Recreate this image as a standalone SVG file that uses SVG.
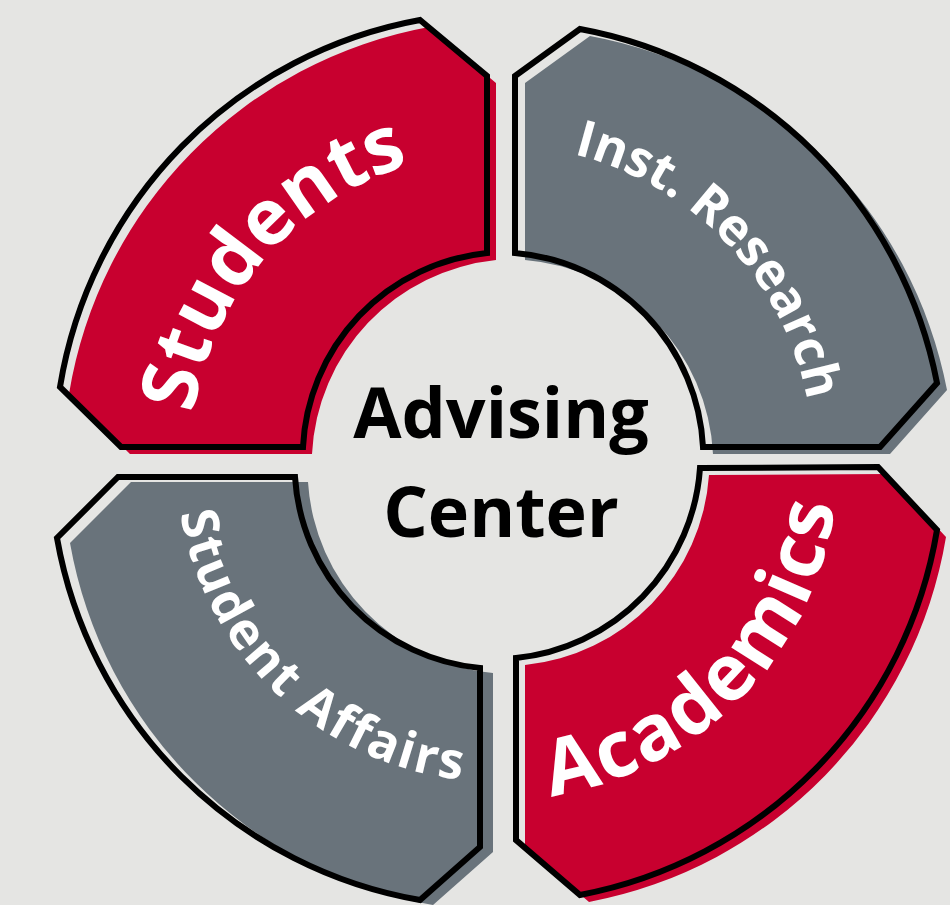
<svg xmlns="http://www.w3.org/2000/svg" xmlns:xlink="http://www.w3.org/1999/xlink" width="950" height="905" viewBox="0 0 950 905">
<style>
.bg{fill:#e5e5e3}
.red{fill:#c8002f}
.gray{fill:#69737b}
.outline{fill:none;stroke:#000;stroke-width:6;stroke-linejoin:miter;stroke-miterlimit:10}
.lbl{fill:#fff;font-family:"Open Sans","DejaVu Sans",sans-serif;font-weight:700}
.big{font-size:78px}
.small{font-size:51px}
.center{fill:#000;font-family:"Open Sans","DejaVu Sans",sans-serif;font-size:70px;font-weight:700;text-anchor:middle}
</style>
<defs>
<path id="qTL" d="M420,20 L487,76 L487,253 A205,205 0 0 0 303,447 L121,447 L60,387 A446,446 0 0 1 420,20 Z"/>
<path id="qTR" d="M515,76 L580,29 A446,446 0 0 1 937,383 L880,447 L703,447 A205,205 0 0 0 515,253 Z"/>
<path id="qBL" d="M118,477 L295,477 A205,205 0 0 0 480,668 L480,847 L420,900 A446,446 0 0 1 57,538 Z"/>
<path id="qBR" d="M700,468 L878,467 L937,530 A446,446 0 0 1 580,895 L516,840 L516,658 A205,205 0 0 0 700,468 Z"/>
<path id="tpStudents" d="M206.8,560.3 A308,308 0 0 1 556.8,157.7"/>
<path id="tpInst" d="M424.5,153.7 A315,315 0 0 1 800,549.5"/>
<path id="tpAffairs" d="M184.6,385.9 A322,322 0 0 0 590.5,768.4"/>
<path id="tpAcademics" d="M415.2,789.8 A340,340 0 0 0 825,366.8"/>
</defs>
<rect class="bg" x="0" y="0" width="950" height="905"/>
<g id="students">
<use href="#qTL" class="red" transform="translate(9,7)"/>
<use href="#qTL" class="outline"/>
<text class="lbl big"><textPath href="#tpStudents" startOffset="50%" text-anchor="middle">Students</textPath></text>
</g>
<g id="inst-research">
<use href="#qTR" class="gray" transform="translate(10,7)"/>
<use href="#qTR" class="outline"/>
<text class="lbl small"><textPath href="#tpInst" startOffset="50%" text-anchor="middle">Inst. Research</textPath></text>
</g>
<g id="student-affairs">
<use href="#qBL" class="gray" transform="translate(13,5)"/>
<use href="#qBL" class="outline"/>
<text class="lbl small" letter-spacing="2.2"><textPath href="#tpAffairs" startOffset="50%" text-anchor="middle">Student Affairs</textPath></text>
</g>
<g id="academics">
<use href="#qBR" class="red" transform="translate(9,7)"/>
<use href="#qBR" class="outline"/>
<text class="lbl big" letter-spacing="2.5"><textPath href="#tpAcademics" startOffset="50%" text-anchor="middle">Academics</textPath></text>
</g>
<g id="advising-center">
<text class="center" x="501" y="438">Advising</text>
<text class="center" x="501" y="537">Center</text>
</g>
</svg>
